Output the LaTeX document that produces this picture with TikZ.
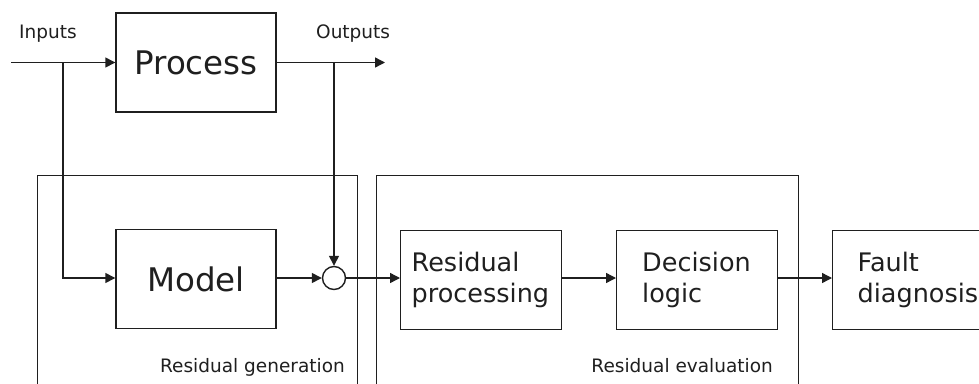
\documentclass[tikz,border=0pt]{standalone}
\usepackage{fontspec}
\setmainfont{DejaVu Sans}
\usetikzlibrary{arrows.meta}
\begin{document}
\begin{tikzpicture}[x=1pt,y=-1pt,
  ink/.style={color=black!88},
  bigblock/.style={draw,ink,line width=1.4pt,minimum width=160pt,minimum height=99pt,inner sep=0pt,
    font=\fontsize{32.5}{38}\selectfont},
  txtblock/.style={draw,ink,line width=1.4pt,minimum height=99pt,align=left,anchor=north west,
    inner ysep=0pt,font=\fontsize{25.5}{31}\selectfont},
  stage/.style={draw,ink,line width=0.8pt,anchor=north west,minimum height=260pt,inner sep=0pt},
  lbl/.style={ink,font=\fontsize{18.5}{22}\selectfont,inner sep=0pt},
  sig/.style={ink,line width=1.4pt,-{Triangle[length=10pt,width=10pt]}},
  sumnode/.style={circle,draw,ink,line width=1.4pt,minimum size=23pt,inner sep=0pt}]
\useasboundingbox (0,0) rectangle (979,383);
\clip (0,0) rectangle (979,383);

% stage frames (open at the bottom edge)
\node[stage,minimum width=320pt] (gen) at (37,175) {};
\node[stage,minimum width=422pt] (eval) at (375.5,175) {};
\node[lbl,anchor=base east] (genlbl) at (345,372) {Residual generation};
\node[lbl,anchor=base east] (evallbl) at (773,372) {Residual evaluation};

% blocks
\node[bigblock] (proc) at (196,62.5) {Process};
\node[bigblock] (model) at (196,279) {Model};
\node[sumnode] (sum) at (334,278) {};
\node[txtblock,text width=139pt,inner xsep=11pt] (rp) at (400,229.5) {Residual\\processing};
\node[txtblock,text width=110pt,inner xsep=25.5pt] (dl) at (616,229.5) {Decision\\logic};
\node[txtblock,text width=160pt,inner xsep=25pt] (fd) at (832,229.5) {Fault\\diagnosis};

% signal labels
\node[lbl,anchor=base west] (inlbl) at (19,38) {Inputs};
\node[lbl,anchor=base west] (outlbl) at (316,38) {Outputs};

% signal paths
\coordinate (src) at (11,62.5);
\coordinate (dst) at (385,62.5);
\coordinate (jin) at (63,62.5);
\coordinate (jout) at (334,62.5);
\draw[sig] (src) -- (proc);
\draw[sig] (proc) -- (dst);
\draw[sig] (jin) |- (model.west |- sum);
\draw[sig] (jout) -- (sum);
\draw[sig] (model.east |- sum) -- (sum);
\draw[sig] (sum) -- (rp.west |- sum);
\draw[sig] (rp.east |- sum) -- (dl.west |- sum);
\draw[sig] (dl.east |- sum) -- (fd.west |- sum);
\end{tikzpicture}
\end{document}
